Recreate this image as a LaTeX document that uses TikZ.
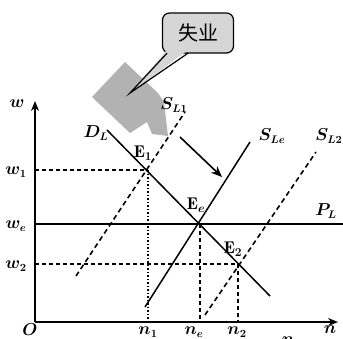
\documentclass[tikz,border=0pt]{standalone}
\usepackage{fontspec}
\newfontfamily\cjk{Noto Sans CJK SC}
\usetikzlibrary{arrows.meta}
\begin{document}
\begin{tikzpicture}[x=1pt,y=-1pt,
  axis/.style={line width=1.6pt,-{Stealth[length=10pt,width=8pt]}},
  curve/.style={line width=1.5pt},
  dashln/.style={line width=1.3pt,dash pattern=on 4pt off 3pt},
  sdash/.style={line width=1.6pt,dash pattern=on 5pt off 3.5pt},
  dotln/.style={line width=1.5pt,dash pattern=on 1.5pt off 2pt},
  lbl/.style={inner sep=0pt,font=\fontsize{16}{19}\selectfont\boldmath},
  elbl/.style={inner sep=0pt,font=\fontsize{17}{20}\selectfont\boldmath}]
\useasboundingbox (0,0) rectangle (343,338);
\clip (0,0) rectangle (343,338);
% gray block arrow
\fill[black!30] (125,62) -- (92,97) -- (130,133) -- (147,122) -- (152,134) -- (168,136) -- (164,102) -- (158,93) -- cycle;
% callout
\node[draw, fill=black!16, rounded corners=7pt, line width=1.2pt, minimum width=71pt, minimum height=40pt, inner sep=0pt] (box) at (198,33) {\cjk\fontsize{20}{23}\selectfont 失业};
\coordinate (tip) at (130,93);
\coordinate (pa) at (167,53.2);
\coordinate (pb) at (188,53.2);
\fill[black!16] (167,50) -- (tip) -- (188,50) -- cycle;
\draw[line width=1.2pt] (pa) -- (tip) -- (pb);
% coordinates
\coordinate (O) at (35,322);
\coordinate (ytip) at (35,101);
\coordinate (xtip) at (338,322);
\coordinate (E1) at (148,170);
\coordinate (Ee) at (200,224);
\coordinate (E2) at (238,264);
\coordinate (w1) at (35,170);
\coordinate (we) at (35,224);
\coordinate (w2) at (35,264);
\coordinate (n1) at (148,322);
\coordinate (ne) at (200,322);
\coordinate (n2) at (238,322);
\coordinate (DLa) at (107,130);
\coordinate (DLb) at (270,296);
\coordinate (SLea) at (145,307);
\coordinate (SLeb) at (250,142);
\coordinate (SL1a) at (76,276);
\coordinate (SL1b) at (185,112);
\coordinate (SL2a) at (205,315);
\coordinate (SL2b) at (316,152);
\coordinate (PLb) at (343,224);
\coordinate (ara) at (180,137);
\coordinate (arb) at (222,177);
% guide lines
\draw[dashln] (w1) -- (E1);
\draw[dotln] (E1) -- (n1);
\draw[dashln] (Ee) -- (ne);
\draw[dashln] (w2) -- (E2) -- (n2);
% curves
\draw[curve] (we) -- (PLb);
\draw[curve] (DLa) -- (DLb);
\draw[curve] (SLea) -- (SLeb);
\draw[sdash] (SL1a) -- (SL1b);
\draw[sdash] (SL2a) -- (SL2b);
% axes
\draw[axis] (O) -- (ytip);
\draw[axis] (O) -- (xtip);
% shift arrow
\draw[line width=1.6pt,-{Stealth[length=11pt,width=9pt]}] (ara) -- (arb);
% labels
\node[lbl] (lw) at (17,104) {$w$};
\node[lbl] (lw1) at (16,172) {$w_1$};
\node[lbl] (lwe) at (16,226) {$w_e$};
\node[lbl] (lw2) at (16,266) {$w_2$};
\node[lbl] (lO) at (30,330) {$O$};
\node[lbl] (ln1) at (148,332) {$n_1$};
\node[lbl] (lne) at (194,332) {$n_e$};
\node[lbl] (ln2) at (237,332) {$n_2$};
\node[lbl] (lnx) at (288,341) {$n$};
\node[lbl] (ln) at (330,330) {$n$};
\node[lbl] (lDL) at (96,133) {$D_L$};
\node[elbl] (lE1) at (143,153) {$\mathrm{E}_1$};
\node[lbl] (lSL1) at (174,105) {$S_{L1}$};
\node[lbl] (lSLe) at (272,136) {$S_{Le}$};
\node[lbl] (lSL2) at (329,136) {$S_{L2}$};
\node[elbl] (lEe) at (196,205) {$\mathrm{E}_e$};
\node[elbl] (lE2) at (233,249) {$\mathrm{E}_2$};
\node[lbl] (lPL) at (326,211) {$P_L$};
\end{tikzpicture}
\end{document}
